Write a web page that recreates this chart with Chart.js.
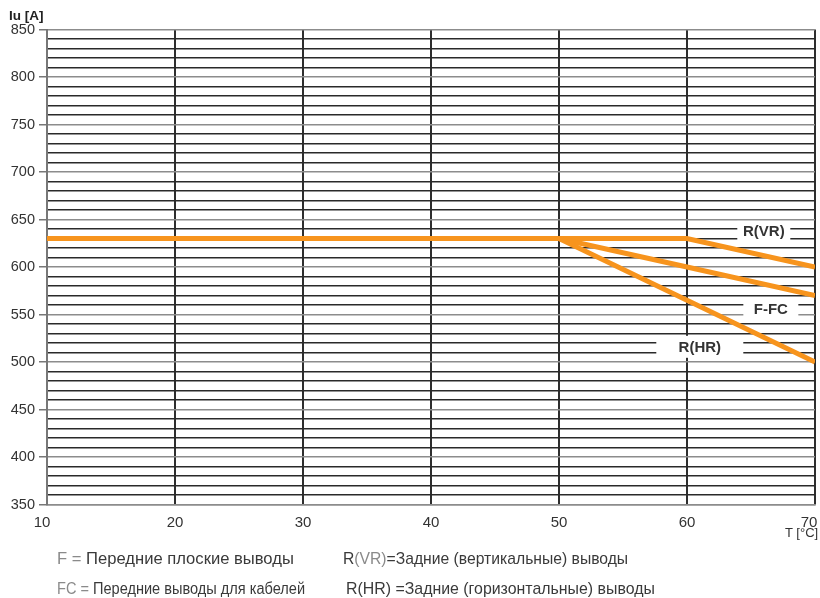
<!DOCTYPE html>
<html><head><meta charset="utf-8">
<script src="https://cdn.jsdelivr.net/npm/chart.js@4.4.0/dist/chart.umd.min.js"></script>
<style>
html,body{margin:0;padding:0;background:#fff;}
#wrap{position:relative;width:820px;height:598px;overflow:hidden;font-family:"Liberation Sans",Arial,sans-serif;}
canvas{position:absolute;left:0;top:0;}
.t{position:absolute;white-space:nowrap;color:#3a3a3a;font-size:16px;line-height:18px;}
.g{color:#8a8a8a;}
.cond{transform:scaleX(0.91);transform-origin:0 50%;}
</style></head><body>
<div id="wrap">
<canvas id="c" width="820" height="598"></canvas>
<div class="t" style="left:9px;top:8px;font-weight:bold;font-size:13.5px;line-height:16px;color:#222">Iu [A]</div>
<div class="t" style="left:785px;top:525px;font-size:13px;line-height:16px;color:#333">T [°C]</div>
<div class="t" style="left:57px;top:550px;font-size:16.6px"><span class="g">F =</span> Передние плоские выводы</div>
<div class="t cond" style="left:57px;top:580px"><span class="g">FC =</span> Передние выводы для кабелей</div>
<div class="t" style="left:343px;top:550px;font-size:15.7px">R<span class="g">(VR)</span>=Задние (вертикальные) выводы</div>
<div class="t" style="left:346px;top:580px;font-size:15.9px">R(HR) =Задние (горизонтальные) выводы</div>
</div>
<script>
// ---- data ----
const temperatures = [10, 50, 60, 70];
const seriesRVR = [630, 630, 630, 600];
const seriesFFC = [630, 630, 600, 570];
const seriesRHR = [630, 630, 565, 500];
const seriesNames = ['R(VR)', 'F-FC', 'R(HR)'];
const xTickValues = [10, 20, 30, 40, 50, 60, 70];
const yTickLabels = [350, 400, 450, 500, 550, 600, 650, 700, 750, 800, 850];

const ORANGE = '#F7941D';
const FONT = '"Liberation Sans", Arial, sans-serif';

function pts(ys){ return temperatures.map((t,i)=>({x:t, y:ys[i]})); }

const boxLabels = {
  id: 'boxLabels',
  afterDatasetsDraw(chart, args, opts){
    const {ctx, scales:{x, y}} = chart;
    ctx.save();
    ctx.font = 'bold 15px ' + FONT;
    ctx.textAlign = 'center';
    ctx.textBaseline = 'middle';
    opts.items.forEach(it => {
      const px = x.getPixelForValue(it.x), py = y.getPixelForValue(it.y);
      ctx.fillStyle = '#fff';
      ctx.fillRect(px - it.w/2, py - it.h/2, it.w, it.h);
      ctx.fillStyle = '#333';
      ctx.fillText(it.text, px, py + 1);
    });
    ctx.restore();
  }
};

const tickShift = {
  id: 'tickShift',
  beforeDraw(chart){
    const sc = chart.scales.x;
    if (!sc._wrappedShift) {
      const orig = sc._computeLabelItems;
      sc._computeLabelItems = function(ca){
        const items = orig.call(this, ca);
        if (items.length) {
          items[0].options.translation[0] -= 5;
          items[items.length-1].options.translation[0] -= 6;
        }
        return items;
      };
      sc._wrappedShift = true;
      sc._labelItems = null;
    }
  }
};

const lineDs = (label, ys) => ({
  label, data: pts(ys), borderColor: ORANGE, backgroundColor: ORANGE,
  borderWidth: 5, pointRadius: 0, tension: 0, fill: false,
  borderCapStyle: 'butt', borderJoinStyle: 'miter'
});

new Chart(document.getElementById('c'), {
  type: 'line',
  data: {
    datasets: [
      lineDs(seriesNames[2], seriesRHR),
      lineDs(seriesNames[1], seriesFFC),
      lineDs(seriesNames[0], seriesRVR)
    ]
  },
  options: {
    responsive: false,
    animation: false,
    devicePixelRatio: 1,
    layout: { padding: { top: 29.5, right: 5, bottom: 63.5, left: 0 } },
    plugins: {
      legend: { display: false },
      tooltip: { enabled: false },
      boxLabels: {
        items: [
          { text: seriesNames[0], x: 66.0, y: 638, w: 53, h: 20 },
          { text: seriesNames[1], x: 66.55, y: 556.3, w: 55, h: 20 },
          { text: seriesNames[2], x: 61.0, y: 516, w: 87, h: 22 }
        ]
      }
    },
    scales: {
      x: {
        type: 'linear', min: 10, max: 70,
        afterBuildTicks(sc){ sc.ticks = xTickValues.map(v => ({value: v})); },
        ticks: { stepSize: 10, autoSkip: false, maxRotation: 0, padding: 9,
          color: '#333', font: { family: FONT, size: 15 } },
        grid: { color: '#2e2e2e', lineWidth: 2, drawTicks: false },
        border: { color: '#8c8c8c', width: 1.5 },
        afterFit(sc){ sc.height = 30; sc.paddingLeft = 0; sc.paddingRight = 0; }
      },
      y: {
        type: 'linear', min: 350, max: 850,
        ticks: { stepSize: 10, autoSkip: false, maxTicksLimit: 100, padding: 4,
          color: '#333', font: { family: FONT, size: 14.5 },
          callback: v => yTickLabels.includes(v) ? String(v) : '' },
        grid: {
          color: c => (c.tick && c.tick.value % 50 === 0) ? '#8c8c8c' : '#2a2a2a',
          lineWidth: 1.5,
          drawTicks: true, tickLength: 8,
          tickColor: c => (c.tick && c.tick.value % 50 === 0) ? '#777' : 'rgba(0,0,0,0)',
          tickWidth: 1.5
        },
        border: { color: '#777', width: 2 },
        afterFit(sc){ sc.width = 47; sc.paddingTop = 0; sc.paddingBottom = 0; }
      }
    }
  },
  plugins: [boxLabels, tickShift]
});
</script>
</body></html>
